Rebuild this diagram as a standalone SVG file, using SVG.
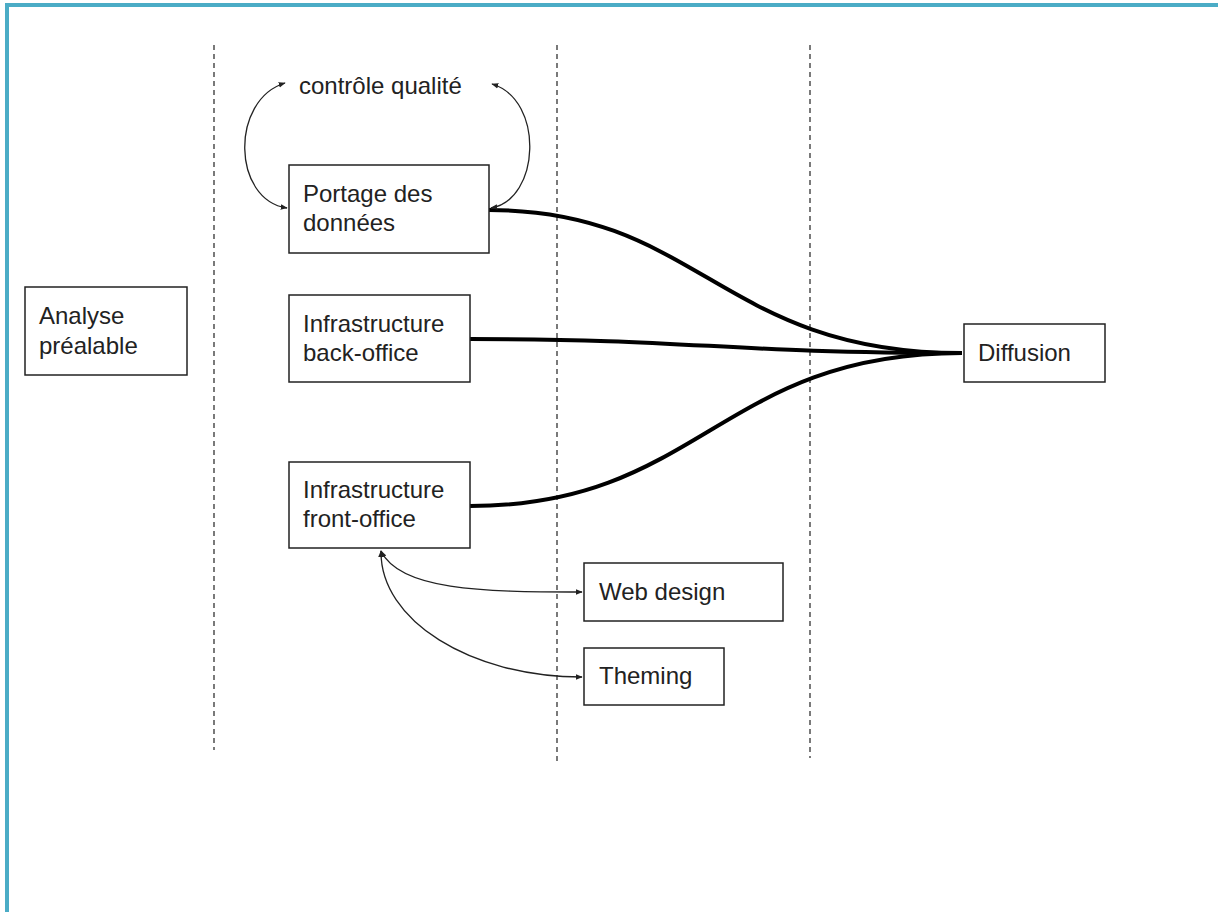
<svg xmlns="http://www.w3.org/2000/svg" width="1218" height="912" viewBox="0 0 1218 912">
<style>
.box{fill:#fff;stroke:#222;stroke-width:1.5}
.t{font-family:"Liberation Sans",Arial,sans-serif;font-size:24px;fill:#222}
.dash{stroke:#222;stroke-width:1.2;stroke-dasharray:5,4;fill:none}
.thick{stroke:#000;stroke-width:4;fill:none}
.thin{stroke:#222;stroke-width:1.3;fill:none;marker-start:url(#a);marker-end:url(#a)}
</style>
<defs>
<marker id="a" viewBox="0 0 10 10" refX="9" refY="5" markerWidth="7" markerHeight="7" orient="auto-start-reverse" markerUnits="userSpaceOnUse"><path d="M0,1 L10,5 L0,9 Z" fill="#222"/></marker>
</defs>
<rect width="1218" height="912" fill="#fff"/>
<path d="M7,912 V5 H1218" fill="none" stroke="#4bacc6" stroke-width="4"/>
<g id="lanes">
<line class="dash" x1="214" y1="45" x2="214" y2="750"/>
<line class="dash" x1="557" y1="45" x2="557" y2="763"/>
<line class="dash" x1="810" y1="45" x2="810" y2="758"/>
</g>
<g id="connectors">
<path class="thick" d="M489,210 C700,210 720,353 962,353"/>
<path class="thick" d="M470,339 C700,339 720,353 962,353"/>
<path class="thick" d="M470,506 C700,506 720,353 962,353"/>
<path class="thin" d="M285,83 C230,100 232,200 287,208"/>
<path class="thin" d="M492,84 C545,100 540,200 491,208"/>
<path class="thin" d="M381,551 C400,590 480,592 582,592"/>
<path class="thin" d="M381,551 C380,620 470,677 582,677"/>
</g>
<g id="controle"><text class="t" x="299" y="94">contrôle qualité</text></g>
<g id="analyse"><rect class="box" x="25" y="287" width="162" height="88"/><text class="t" x="39" y="324">Analyse</text><text class="t" x="39" y="354">préalable</text></g>
<g id="portage"><rect class="box" x="289" y="165" width="200" height="88"/><text class="t" x="303" y="202">Portage des</text><text class="t" x="303" y="231">données</text></g>
<g id="backoffice"><rect class="box" x="289" y="295" width="181" height="87"/><text class="t" x="303" y="332">Infrastructure</text><text class="t" x="303" y="361">back-office</text></g>
<g id="frontoffice"><rect class="box" x="289" y="462" width="181" height="86"/><text class="t" x="303" y="498">Infrastructure</text><text class="t" x="303" y="527">front-office</text></g>
<g id="diffusion"><rect class="box" x="964" y="324" width="141" height="58"/><text class="t" x="978" y="361">Diffusion</text></g>
<g id="webdesign"><rect class="box" x="584" y="563" width="199" height="58"/><text class="t" x="599" y="600">Web design</text></g>
<g id="theming"><rect class="box" x="584" y="648" width="140" height="57"/><text class="t" x="599" y="684">Theming</text></g>
</svg>
